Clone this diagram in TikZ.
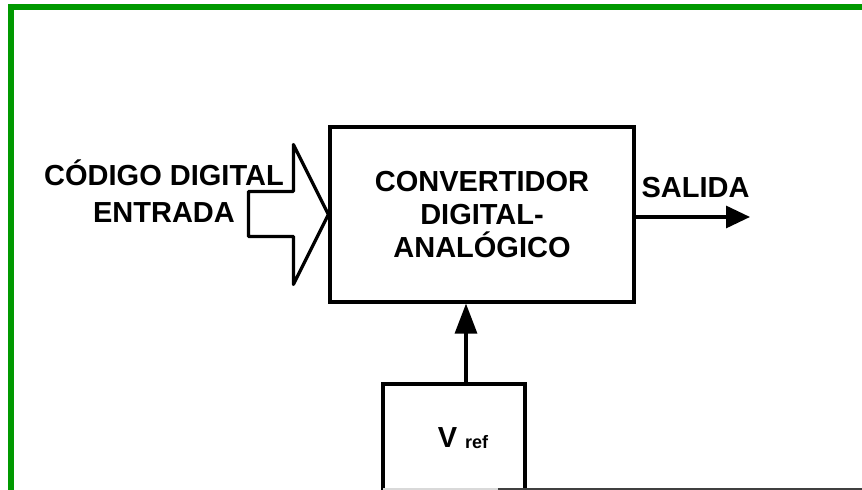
\documentclass[tikz,border=0pt]{standalone}
\usepackage{fontspec}
\setmainfont{Liberation Sans}
\usepackage{tikz}
\usetikzlibrary{arrows.meta}
\usetikzlibrary{positioning}
\definecolor{framegreen}{RGB}{0,153,0}
\tikzset{blk/.style = {draw, line width=1.6pt, inner sep=0pt},
         lbl/.style = {font=\bfseries\fontsize{14.5}{16.5}\selectfont, align=center, inner sep=0pt},
         arr/.style = {line width=1.6pt, -{Triangle[length=12pt, width=11pt]}},
         longarr/.style = {line width=1.6pt, -{Triangle[length=15pt, width=11pt]}}}

\begin{document}
\begin{tikzpicture}[x=0.5pt, y=-0.5pt]
    \useasboundingbox (0, 0) rectangle (862, 490);
    \clip (0, 0) rectangle (862, 490);
    \draw [framegreen, line width=3pt] (11, 495) -- (11, 7.5) -- (870, 7.5);

    \node (dac) [blk, lbl, minimum width=152pt, minimum height=87.5pt] at (482, 214.5)
        {CONVERTIDOR\\ DIGITAL-\\ ANALÓGICO};
    \node (inlbl) [lbl] at (164, 191) {CÓDIGO DIGITAL\\[2pt] ENTRADA};
    \node (outlbl) [lbl] at (695.5, 188) {SALIDA};
    \coordinate (out) at (750, 217);
    \node (vrefbox) [blk, minimum width=71pt, minimum height=68pt] at (454, 452) {};
    \node (vreftxt) [lbl] at (463, 438)
        {V\hspace{4pt}\raisebox{-0.5pt}{\fontsize{9}{10}\selectfont ref}};

    \draw [line width=1.6pt, line join=round] (dac.west) -- ++(-35, -70) -- ++(0, 47)
        -- ++(-45, 0) -- ++(0, 45) -- ++(45, 0) -- ++(0, 48) -- cycle;
    \draw [arr] (dac.east |- out) -- (out);
    \draw [longarr] ([xshift=6pt]vrefbox.north) -- ([xshift=6pt]vrefbox.north |- dac.south);

    \draw [black!15, line width=1pt] (383, 489) -- (498, 489);
    \draw [black!75, line width=1pt] (498, 489) -- (870, 489);
\end{tikzpicture}
\end{document}
